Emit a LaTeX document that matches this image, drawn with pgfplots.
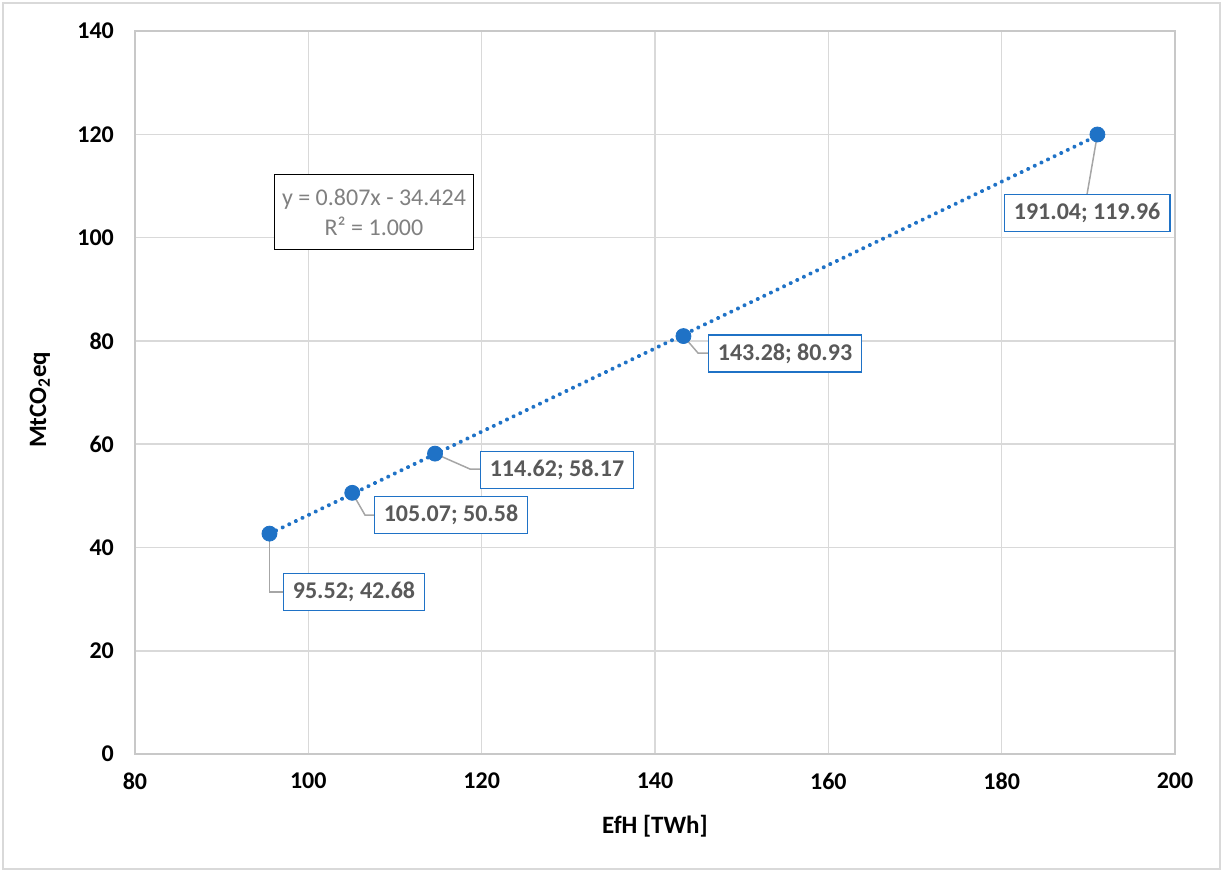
\documentclass[border=0pt]{standalone}
\usepackage{pgfplots}
\pgfplotsset{compat=1.18}
\usepackage{fontspec}
\setmainfont{Carlito}
\definecolor{ptblue}{RGB}{31,114,198}
\definecolor{lblgray}{RGB}{89,89,89}
\definecolor{eqgray}{RGB}{128,128,128}
\definecolor{gridgray}{RGB}{217,217,217}
\definecolor{axgray}{RGB}{200,200,200}
\definecolor{leader}{RGB}{166,166,166}
\begin{document}
\begin{tikzpicture}[
  dlbl/.style={draw=ptblue, line width=0.75pt, fill=white, text=lblgray,
    font=\fontsize{12}{14}\selectfont\bfseries, inner xsep=4.7pt, inner ysep=0pt,
    minimum height=18.5pt, anchor=center},
  ldr/.style={leader, line width=0.75pt}
]
\begin{axis}[
  scale only axis, width=520pt, height=361.5pt,
  xmin=80, xmax=200, ymin=0, ymax=140,
  xtick={80,100,...,200}, ytick={0,20,...,140},
  grid=major, major grid style={gridgray, line width=0.75pt},
  axis line style={axgray, line width=0.75pt},
  tick style={draw=none},
  /pgf/number format/assume math mode=true,
  ticklabel style={font=\fontsize{12}{14}\selectfont\bfseries},
  xticklabel style={yshift=-6pt},
  yticklabel style={xshift=-7pt},
  xlabel={EfH [TWh]}, ylabel={MtCO\textsubscript{2}eq},
  label style={font=\fontsize{12.5}{14}\selectfont\bfseries},
  xlabel style={at={(axis description cs:0.5,-0.0996)}, anchor=center},
  ylabel style={at={(axis description cs:-0.0913,0.49)}, anchor=center},
  clip=false,
]
% invisible margin and outer chart frame
\path (axis cs:64.43,-22.85) rectangle (axis cs:205.53,146.0);
\draw[gridgray, line width=0.75pt] (axis cs:64.77,-22.27) rectangle (axis cs:205.19,145.42);
% trendline (endpoints of y = 0.807x - 34.424)
\addplot[ptblue, line width=2pt, line cap=round, dash pattern=on 0.01pt off 3.65pt]
  coordinates {(95.52,42.66) (191.04,119.74)};
% data points
\addplot[only marks, mark=*, mark size=3.75pt, mark options={fill=ptblue, draw=ptblue}]
  coordinates {(95.52,42.68) (105.07,50.58) (114.62,58.17) (143.28,80.93) (191.04,119.96)};
% leader lines
\draw[ldr] (axis cs:95.52,42.68) -- (axis cs:95.52,31.37) -- (axis cs:97.19,31.37);
\draw[ldr] (axis cs:105.07,50.58) -- (axis cs:106.54,46.28) -- (axis cs:107.81,46.28);
\draw[ldr] (axis cs:114.62,58.17) -- (axis cs:118.65,55.19) -- (axis cs:119.92,55.19);
\draw[ldr] (axis cs:143.28,80.93) -- (axis cs:144.96,77.65) -- (axis cs:146.23,77.65);
\draw[ldr] (axis cs:191.04,119.96) -- (axis cs:189.85,108.44);
% data labels
\node[dlbl] at (axis cs:105.27,31.37) {95.52; 42.68};
\node[dlbl] at (axis cs:116.46,46.28) {105.07; 50.58};
\node[dlbl] at (axis cs:128.69,54.99) {114.62; 58.17};
\node[dlbl] at (axis cs:155.00,77.55) {143.28; 80.93};
\node[dlbl] at (axis cs:189.85,104.76) {191.04; 119.96};
% equation box
\node[draw=black, line width=0.75pt, fill=white, text=eqgray, align=center,
  font=\fontsize{12}{15}\selectfont, minimum width=99.5pt, minimum height=37.5pt,
  inner sep=0pt] at (axis cs:107.58,104.95) {y = 0.807x - 34.424\\R² = 1.000};
\end{axis}
\end{tikzpicture}
\end{document}
